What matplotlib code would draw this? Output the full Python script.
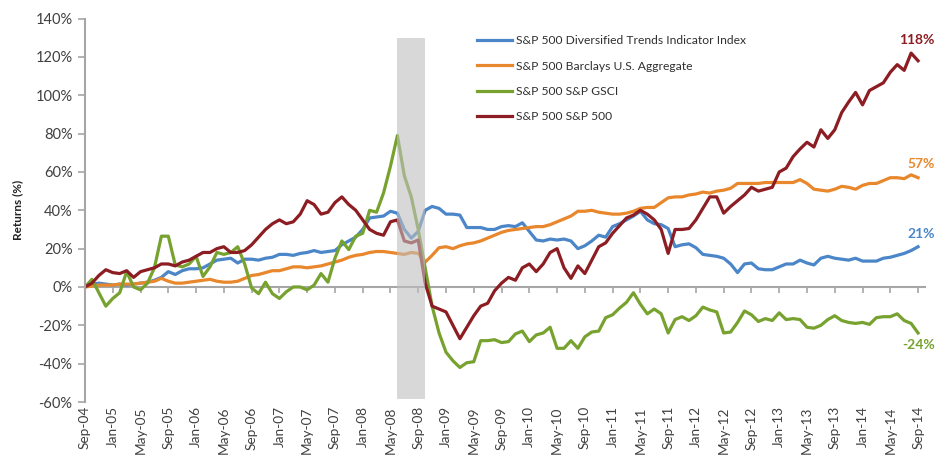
import matplotlib
matplotlib.use("Agg")
import matplotlib.pyplot as plt
import pandas as pd

plt.rcParams['font.family'] = ['Lato', 'DejaVu Sans']

# ---- data -------------------------------------------------------------
months = pd.date_range('2004-09-01', '2014-09-01', freq='MS')
month_labels = [d.strftime('%b-%y') for d in months]
tick_step = 4

series_names = [
    "S&P 500 Diversified Trends Indicator Index",
    "S&P 500 Barclays U.S. Aggregate",
    "S&P 500 S&P GSCI",
    "S&P 500 S&P 500",
]

dti = [0, 1.5, 2, 1.5, 1, 1.5, 1, 1.5, 2, 2.5,
       3.5, 5, 8, 6.5, 8.5, 9.5, 9.5, 10, 12, 14,
       14.5, 15, 12.5, 14.5, 14.5, 14, 15, 15.5, 17, 17,
       16.5, 17.5, 18, 19, 18, 18.5, 19, 22, 24, 26,
       30, 36, 36.5, 37, 39.5, 38.5, 30, 25.5, 29, 40,
       42, 41, 38, 38, 37.5, 31, 31, 31, 30, 30,
       31.5, 32, 31.5, 33.5, 29, 24.5, 24, 25, 24.5, 25,
       24, 20, 21.5, 24, 27, 26, 31.5, 33, 35, 37,
       39.5, 35, 33, 32.5, 30.5, 21, 22, 22.5, 20.5, 17,
       16.5, 16, 15, 12, 7.5, 12, 12.5, 9.5, 9, 9,
       10.5, 12, 12, 14, 12.5, 11.5, 15, 16, 15, 14.5,
       14, 15, 13.5, 13.5, 13.5, 15, 15.5, 16.5, 17.5, 19,
       21]

agg = [0, 0.5, 1, 1, 1, 1.5, 1.5, 1.5, 2, 2.5,
       3, 4.5, 3, 2, 2, 2.5, 3, 3.5, 4, 3,
       2.5, 2.5, 3, 4.5, 6, 6.5, 7.5, 8.5, 8.5, 9.5,
       10.5, 10.5, 10, 10.5, 11, 12, 13, 14, 15.5, 16.5,
       17, 18, 18.5, 18.5, 18, 17.5, 17, 18, 17.5, 13,
       16.5, 20.5, 21, 20, 21.5, 22.5, 23, 24, 25.5, 27,
       28.5, 29.5, 30, 30.5, 31, 31.5, 31.5, 32.5, 34, 35.5,
       37, 39.5, 39.5, 40, 39, 38.5, 38, 38, 38.5, 39.5,
       41, 41.5, 41.5, 44, 46.5, 47, 47, 48, 48.5, 49.5,
       49, 50, 50.5, 51.5, 54, 54, 54, 54, 54.5, 54.5,
       54.5, 54.5, 54.5, 56, 54, 51, 50.5, 50, 51, 52.5,
       52, 51, 53, 54, 54, 55.5, 57, 57, 56.5, 58.5,
       57]

gsci = [0, 4, -3, -10, -6, -3, 8, 0, -1.5, 2,
        10, 26.5, 26.5, 11.5, 10.5, 12, 16, 5.5, 10.5, 18,
        17, 18, 21, 12, -0.5, -3.5, 2.5, -3.5, -6, -2.5,
        0, 0, -1.5, 1, 7, 2.5, 15, 24, 19.5, 26.5,
        28, 40, 39, 49, 63, 79, 58, 47, 30, 10,
        -10, -24, -34, -38.5, -42, -39.5, -39, -28, -28, -27.5,
        -29, -28.5, -24.5, -23, -28.5, -25, -24, -21, -32, -32,
        -28, -32, -26, -23.5, -23, -16, -14.5, -11, -8, -3,
        -9, -14, -11.5, -14, -24, -17, -15.5, -17.5, -15, -10.5,
        -12, -13, -24, -23.5, -18.5, -12.5, -14.5, -18, -16.5, -17.5,
        -13.5, -17, -16.5, -17, -21, -21.5, -20, -17, -15, -17.5,
        -18.5, -19, -18.5, -19.5, -16, -15.5, -15.5, -14, -17.5, -19,
        -24]

spx = [0, 2, 6, 9, 7.5, 7, 8.5, 5, 8, 9,
       10, 12, 12, 11, 13, 14, 16, 18, 18, 20,
       21, 18, 18, 19, 22, 26, 30, 33, 35, 33,
       34, 38, 45, 43, 38, 39, 44, 47, 43, 40,
       35, 30, 28, 27, 34, 35, 24, 23, 24.5, 2,
       -10, -11.5, -13, -20, -27, -21, -15, -10, -8.5, -2,
       2, 5, 3.5, 10, 12, 8, 12, 18, 20, 10,
       4.5, 11, 7, 14, 21, 23, 28, 32, 36, 37.5,
       40, 38, 35, 30, 17.5, 30, 30, 30.5, 35, 41,
       47, 47, 38.5, 42, 45, 48, 52, 50, 51, 52,
       60, 62, 68, 72, 75.5, 73, 82, 77.5, 82, 91,
       96.5, 101.5, 95, 102.5, 104.5, 106.5, 112, 116, 113, 122,
       118]

recession_start, recession_end = 45, 49   # month index of shaded band
band_low, band_high = -58.6, 130

colors = ['#4A86C8', '#E8872B', '#77A22F', '#8C1D22']
label_offsets = [(12, 9), (12, 10), (12, -9), (12, 15)]   # points

# ---- figure -----------------------------------------------------------
fig = plt.figure(figsize=(9.37, 4.61), dpi=100)
ax = fig.add_axes([85/937, 1 - 402/461, 840/937, (402 - 18.6)/461])

x = list(range(len(months)))
all_series = [dti, agg, gsci, spx]
for vals, name, c in zip(all_series, series_names, colors):
    ax.plot(x, vals, color=c, lw=2.3, label=name, zorder=2,
            solid_joinstyle='round')

ax.fill_between([recession_start, recession_end], band_low, band_high,
                color='#bfbfbf', alpha=0.6, lw=0, zorder=3)

ax.set_xlim(0, 121)
ax.set_ylim(-60, 140)

yt = list(range(-60, 141, 20))
ax.set_yticks(yt)
ax.set_yticklabels([f"{v}%" for v in yt], fontsize=10.5, color='#404040')

ticks = x[::tick_step]
ax.set_xticks(ticks)
ax.set_xticklabels([])
ax.tick_params(axis='x', direction='out', length=4, color='#a6a6a6', width=1.2)
ax.tick_params(axis='y', direction='out', length=5, color='#a6a6a6', width=1.2,
               pad=4)

for s in ['top', 'right']:
    ax.spines[s].set_visible(False)
ax.spines['bottom'].set_position(('data', 0))
ax.spines['bottom'].set_color('#a6a6a6')
ax.spines['bottom'].set_linewidth(1.5)
ax.spines['bottom'].set_zorder(1)
ax.spines['left'].set_color('#a6a6a6')
ax.spines['left'].set_linewidth(1.5)

sec = ax.secondary_xaxis('bottom')
sec.set_xticks(ticks)
sec.set_xticklabels([month_labels[i] for i in ticks], rotation=90,
                    fontsize=9.8, color='#404040')
sec.tick_params(length=0, pad=3)
sec.spines['bottom'].set_visible(False)

fig.text(18/937, 1 - 210/461, "Returns (%)", rotation=90, fontsize=8.5,
         fontweight='bold', ha='center', va='center', color='#202020')

leg = ax.legend(loc='upper left', bbox_to_anchor=(477/937, 1 - 35/461),
                bbox_transform=fig.transFigure, frameon=False, fontsize=8.7,
                handlelength=2.9, handletextpad=0.3, labelspacing=1.2,
                borderpad=0, borderaxespad=0)
for t in leg.get_texts():
    t.set_color('#303030')

for vals, c, off in zip(all_series, colors, label_offsets):
    ax.annotate(f"{vals[-1]:.0f}%", xy=(x[-1], vals[-1]), xytext=off,
                textcoords='offset points', ha='right', va='center',
                fontsize=10, fontweight='bold', color=c,
                annotation_clip=False)

fig.savefig('out.png', dpi=100)
